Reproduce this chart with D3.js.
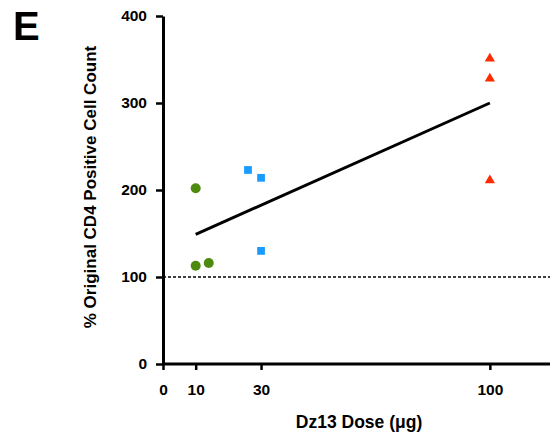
<!DOCTYPE html>
<html>
<head>
<meta charset="utf-8">
<script src="https://cdn.jsdelivr.net/npm/d3@7"></script>
<style>
  body { margin: 0; background: #fff; }
  svg { font-family: "Liberation Sans", Arial, sans-serif; font-weight: bold; }
</style>
</head>
<body>
<div id="chart"></div>
<script>
// data
var lowDose = [{ dose: 10, count: 202 }, { dose: 10, count: 113 }, { dose: 14, count: 116 }];
var midDose = [{ dose: 26, count: 223 }, { dose: 30, count: 214 }, { dose: 30, count: 130 }];
var highDose = [{ dose: 100, count: 351 }, { dose: 100, count: 328 }, { dose: 100, count: 211 }];
var fitLine = [{ dose: 10, count: 149 }, { dose: 100, count: 300 }];
var baseline = 100;
var xTicks = [0, 10, 30, 100];
var yTicks = [0, 100, 200, 300, 400];

var width = 550, height = 442;
var margin = { top: 16, right: 0, bottom: 78, left: 163 };

var svg = d3.select("#chart").append("svg")
    .attr("width", width)
    .attr("height", height);

var x = d3.scaleLinear().domain([0, 118.4]).range([margin.left, width - margin.right]);
var y = d3.scaleLinear().domain([0, 400]).range([height - margin.bottom, margin.top]);

// panel letter
svg.append("text")
    .attr("x", 13)
    .attr("y", 40)
    .style("font-size", "40px")
    .text("E");

// dashed reference line at 100%
svg.append("line")
    .attr("x1", x(0)).attr("x2", width)
    .attr("y1", y(baseline)).attr("y2", y(baseline))
    .attr("stroke", "#000")
    .attr("stroke-width", 1.5)
    .attr("stroke-dasharray", "3,2");

// axes
var xAxis = svg.append("g")
    .attr("transform", "translate(0," + y(0) + ")")
    .call(d3.axisBottom(x).tickValues(xTicks).tickSize(6).tickSizeOuter(0).tickPadding(14));
xAxis.select(".domain").attr("stroke-width", 3).attr("d", "M" + x(0) + ",0H" + width);

var yAxis = svg.append("g")
    .attr("transform", "translate(" + x(0) + ",0)")
    .call(d3.axisLeft(y).tickValues(yTicks).tickSize(7).tickSizeOuter(0).tickPadding(9));
yAxis.select(".domain").attr("stroke-width", 3);

svg.selectAll(".tick line").attr("stroke-width", 2.5);
svg.selectAll(".tick text")
    .style("font-size", "15.5px")
    .style("font-weight", "bold")
    .style("font-family", "'Liberation Sans', Arial, sans-serif")
    .attr("fill", "#000");
xAxis.selectAll(".tick text").attr("dy", "0.71em");

// axis titles
svg.append("text")
    .attr("x", 359)
    .attr("y", 428)
    .attr("text-anchor", "middle")
    .style("font-size", "17.5px")
    .text("Dz13 Dose (\u03bcg)");

svg.append("text")
    .attr("transform", "translate(96,187) rotate(-90)")
    .attr("text-anchor", "middle")
    .style("font-size", "17px")
    .text("% Original CD4 Positive Cell Count");

// regression line
svg.append("line")
    .attr("x1", x(fitLine[0].dose)).attr("y1", y(fitLine[0].count))
    .attr("x2", x(fitLine[1].dose)).attr("y2", y(fitLine[1].count))
    .attr("stroke", "#000")
    .attr("stroke-width", 3);

// points
svg.selectAll(".low")
    .data(lowDose)
    .enter().append("circle")
    .attr("class", "low")
    .attr("cx", function (d) { return x(d.dose); })
    .attr("cy", function (d) { return y(d.count); })
    .attr("r", 5)
    .attr("fill", "#4e8a0e");

svg.selectAll(".mid")
    .data(midDose)
    .enter().append("path")
    .attr("class", "mid")
    .attr("d", d3.symbol().type(d3.symbolSquare).size(60))
    .attr("transform", function (d) { return "translate(" + x(d.dose) + "," + y(d.count) + ")"; })
    .attr("fill", "#1a9bff");

svg.selectAll(".high")
    .data(highDose)
    .enter().append("path")
    .attr("class", "high")
    .attr("d", d3.symbol().type(d3.symbolTriangle).size(45))
    .attr("transform", function (d) { return "translate(" + x(d.dose) + "," + y(d.count) + ")"; })
    .attr("fill", "#ff2a00");
</script>
</body>
</html>
